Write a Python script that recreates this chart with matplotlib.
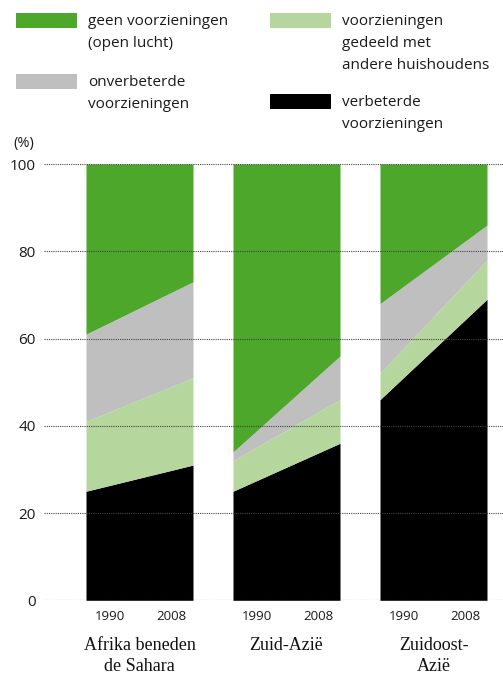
import matplotlib
matplotlib.use("Agg")
import matplotlib.pyplot as plt
from matplotlib.patches import Rectangle

# ---- data ----
regions = ["Afrika beneden\nde Sahara", "Zuid-Azië", "Zuidoost-\nAzië"]
years = ["1990", "2008"]
verbeterde_1990 = [25, 25, 46]
verbeterde_2008 = [31, 36, 69]
gedeeld_1990 = [16, 7, 6]
gedeeld_2008 = [20, 10, 9]
onverbeterde_1990 = [20, 2, 16]
onverbeterde_2008 = [22, 10, 8]
geen_1990 = [39, 66, 32]
geen_2008 = [27, 44, 14]
yticks = [0, 20, 40, 60, 80, 100]

series = [
    ("verbeterde\nvoorzieningen", verbeterde_1990, verbeterde_2008, "#000000"),
    ("voorzieningen\ngedeeld met\nandere huishoudens", gedeeld_1990, gedeeld_2008, "#b5d69c"),
    ("onverbeterde\nvoorzieningen", onverbeterde_1990, onverbeterde_2008, "#bfbfbf"),
    ("geen voorzieningen\n(open lucht)", geen_1990, geen_2008, "#4ca72a"),
]

SANS = ["Open Sans", "DejaVu Sans"]
SERIF = ["Liberation Serif", "DejaVu Serif"]
W, H = 503, 675
fig = plt.figure(figsize=(W / 100, H / 100), dpi=100)

ax_left, ax_right = 44, 503
ax_bot, ax_top = 600.3, 164
ax = fig.add_axes([ax_left / W, 1 - ax_bot / H, (ax_right - ax_left) / W, (ax_bot - ax_top) / H])
pw = 107.0
step = 147.0 / pw
x0 = (ax_left - 86) / pw
x1 = (ax_right - 86) / pw
ax.set_xlim(x0, x1)
ax.set_ylim(0, 100)

for i in range(len(regions)):
    left = i * step
    xs = [left, left + 1]
    base = [0, 0]
    for name, a, b, col in series:
        top = [base[0] + a[i], base[1] + b[i]]
        ax.fill_between(xs, base, top, color=col, linewidth=0, zorder=2)
        base = top

for y in yticks:
    ax.axhline(y, color="#444444", lw=0.8, ls=(0, (1, 1)), zorder=5)

ax.set_yticks(yticks)
ax.set_yticklabels([str(v) for v in yticks], fontfamily=SANS, fontsize=11, color="#1a1a1a")
ax.tick_params(axis="y", length=0, pad=6)
ax.set_xticks([])
for s in ax.spines.values():
    s.set_visible(False)

# year & region labels
for i, reg in enumerate(regions):
    left = i * step
    for frac, yr in zip([0.22, 0.80], years):
        ax.text(left + frac, -2.2, yr, ha="center", va="top", fontfamily=SANS,
                fontsize=9.5, color="#1a1a1a", transform=ax.transData)
    fig.text((86 + i * 147 + pw / 2) / W, 1 - 637 / H, reg, ha="center", va="top",
             fontfamily=SERIF, fontsize=13, color="#111111", linespacing=1.32)

fig.text(13 / W, 1 - 143 / H, "(%)", ha="left", va="center", fontfamily=SANS,
         fontsize=10.5, color="#1a1a1a")

# legend
leg = [
    (16, 13, series[3]),
    (270, 13, series[1]),
    (16, 74, series[2]),
    (270, 94, series[0]),
]
for px, py, (name, a, b, col) in leg:
    fig.patches.append(Rectangle((px / W, 1 - (py + 15) / H), 61 / W, 15 / H,
                                 transform=fig.transFigure, color=col, lw=0))
    fig.text((px + 72) / W, 1 - (py + 1) / H, name, ha="left", va="top",
             fontfamily=SANS, fontsize=11, color="#1a1a1a", linespacing=1.65)

fig.savefig("out.png", dpi=100)
